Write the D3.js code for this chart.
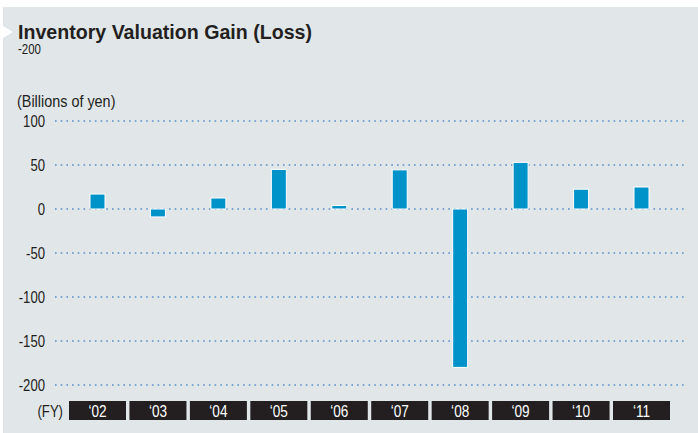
<!DOCTYPE html>
<html>
<head>
<meta charset="utf-8">
<script src="https://cdn.jsdelivr.net/npm/d3@7"></script>
<style>
  body { margin: 0; background: #fff; }
  svg { display: block; }
  text { font-family: "Liberation Sans", Arial, sans-serif; fill: #231f20; }
</style>
</head>
<body>
<script>

// Data
const years = ["'02", "'03", "'04", "'05", "'06", "'07", "'08", "'09", "'10", "'11"];
const gains = [17, -9, 12.5, 45, 4, 44.5, -180, 53, 22.5, 25];
const yTicks = [100, 50, 0, -50, -100, -150, -200];

const W = 698, H = 433;

const svg = d3.select("body").append("svg")
    .attr("width", W)
    .attr("height", H);

// the original uses a condensed face, so squeeze the text sideways
function narrowText(parent, x, y, str, size, k) {
    return parent.append("text")
        .attr("transform", `translate(${x},${y}) scale(${k},1)`)
        .style("font-size", size + "px")
        .text(str);
}

// panel background
svg.append("rect")
    .attr("x", 3).attr("y", 7)
    .attr("width", W - 3).attr("height", H - 7)
    .attr("fill", "#e1e6e9");

// little white triangle next to the title
svg.append("path")
    .attr("d", "M3,26 L13,32 L3,38 Z")
    .attr("fill", "#fff");

svg.append("text")
    .attr("x", 18).attr("y", 39)
    .style("font-weight", "bold")
    .style("font-size", "19.6px")
    .text("Inventory Valuation Gain (Loss)");

// stray label under the title (it is in the original)
narrowText(svg, 18, 53.5, "-200", 14, 0.82);

narrowText(svg, 17, 107, "(Billions of yen)", 16, 0.9);

const y = d3.scaleLinear()
    .domain([-200, 100])
    .range([385, 121]);

const x = d3.scalePoint()
    .domain(years)
    .range([97.5, 641.5]);

// dotted grid lines
svg.selectAll("line.grid")
    .data(yTicks)
    .enter()
    .append("line")
        .attr("class", "grid")
        .attr("x1", 55).attr("x2", 686)
        .attr("y1", d => y(d)).attr("y2", d => y(d))
        .attr("stroke", "#5a8dc8")
        .attr("stroke-width", 1.6)
        .attr("stroke-dasharray", "1.6,4.1");

yTicks.forEach(t => {
    narrowText(svg, 45, y(t) + 6, t, 16, 0.82)
        .attr("text-anchor", "end");
});

// bars
const barW = 15;
svg.selectAll("rect.bar")
    .data(gains)
    .enter()
    .append("rect")
        .attr("class", "bar")
        .attr("x", (d, i) => x(years[i]) - barW / 2)
        .attr("y", d => y(Math.max(0, d)))
        .attr("width", barW)
        .attr("height", d => Math.abs(y(d) - y(0)))
        .attr("fill", "#0093c9")
        .attr("stroke", "#fff")
        .attr("stroke-width", 1);

// FY boxes along the bottom
const boxW = 57;
narrowText(svg, 63, 416.5, "(FY)", 16, 0.82)
    .attr("text-anchor", "end");

const box = svg.selectAll("g.fy")
    .data(years)
    .enter()
    .append("g")
        .attr("class", "fy")
        .attr("transform", d => `translate(${x(d)},0)`);

box.append("rect")
    .attr("x", -boxW / 2).attr("y", 401)
    .attr("width", boxW).attr("height", 19)
    .attr("fill", "#231f20");

box.each(function (d) {
    narrowText(d3.select(this), 0, 416.5, d.replace("'", "\u2018"), 16, 0.85)
        .attr("text-anchor", "middle")
        .style("fill", "#fff");
});

</script>
</body>
</html>
